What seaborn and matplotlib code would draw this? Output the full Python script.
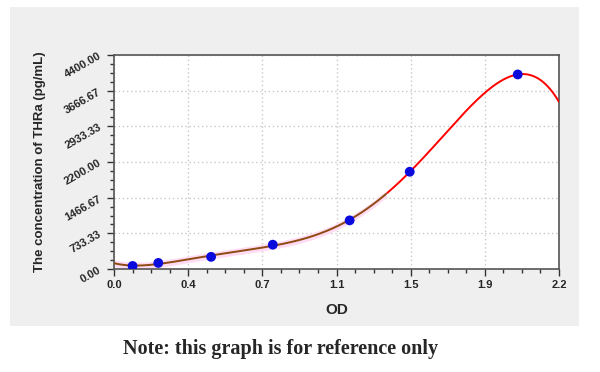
import numpy as np
import pandas as pd
import matplotlib
matplotlib.use("Agg")
import matplotlib.pyplot as plt
import seaborn as sns
from matplotlib.ticker import FixedLocator, FixedFormatter, AutoMinorLocator, FuncFormatter
from matplotlib.patches import Rectangle

# data
od = [0.092, 0.219, 0.480, 0.785, 1.165, 1.462, 1.996]
conc = [62.5, 125, 250, 500, 1000, 2000, 4000]
x_ticks = [0.0, 2.2 / 6, 2 * 2.2 / 6, 3 * 2.2 / 6, 4 * 2.2 / 6, 5 * 2.2 / 6, 2.2]
x_tick_labels = ["0.0", "0.4", "0.7", "1.1", "1.5", "1.9", "2.2"]
y_ticks = [0.0, 733.33, 1466.67, 2200.00, 2933.33, 3666.67, 4400.00]

sns.set_theme(style="white")
plt.rcParams["font.family"] = ["Liberation Sans", "DejaVu Sans"]

fig = plt.figure(figsize=(6.0, 3.72), dpi=100)
fig.patch.set_facecolor("white")
fig.patches.append(Rectangle((10 / 600, 1 - 326 / 372), 569 / 600, 319 / 372,
                             transform=fig.transFigure, facecolor="#efefef",
                             edgecolor="none", zorder=-10))
ax = fig.add_axes([114 / 600, 1 - 269 / 372, 445 / 600, 214 / 372])
ax.set_facecolor("white")

# fitted standard curve (polynomial regression of the standards)
coef = np.polyfit(od, conc, 5)
xs = np.linspace(0, 2.2, 400)
ys = np.polyval(coef, xs)
curve = pd.DataFrame({"x": xs, "y": ys})
split = 1.35
low = curve[curve.x <= split]
high = curve[curve.x >= split]

ax.fill_between(low.x, low.y - 70, low.y + 70, color="#ffdcf3", lw=0, zorder=1)
sns.lineplot(data=high, x="x", y="y", color="#ff0000", lw=1.4, ax=ax, zorder=3)
sns.lineplot(data=low, x="x", y="y", color="#8f4a12", lw=1.4, ax=ax, zorder=3)
pts = pd.DataFrame({"od": od, "conc": conc})
sns.scatterplot(data=pts, x="od", y="conc", color="#0a0adc", s=50, edgecolor="none",
                ax=ax, zorder=4)

ax.set_xlim(0, 2.2)
ax.set_ylim(0, 4400)
ax.xaxis.set_major_locator(FixedLocator(x_ticks))
ax.xaxis.set_major_formatter(FixedFormatter(x_tick_labels))
ax.yaxis.set_major_locator(FixedLocator(y_ticks))
ax.yaxis.set_major_formatter(FuncFormatter(lambda v, p: f"{v:.2f}"))
ax.xaxis.set_minor_locator(AutoMinorLocator(4))
ax.yaxis.set_minor_locator(AutoMinorLocator(4))
ax.grid(True, which="major", color="#c8c8c8", linestyle=(0, (1, 2)), lw=1)
ax.tick_params(which="major", direction="out", length=5, width=1, color="#333333",
               labelsize=8, pad=3, bottom=True, left=True)
ax.tick_params(which="minor", direction="out", length=3, width=1, color="#333333",
               bottom=True, left=True)
for lab in ax.get_xticklabels() + ax.get_yticklabels():
    lab.set_fontweight("bold")
for lab in ax.get_yticklabels():
    lab.set_rotation(30)
for s in ax.spines.values():
    s.set_color("#555555")
    s.set_linewidth(1.2)

ax.set_xlabel("OD", fontsize=11, fontweight="bold", labelpad=9)
ax.set_ylabel("The concentration of THRa (pg/mL)", fontsize=9.5, fontweight="bold", labelpad=12)

fig.text(281 / 600, 1 - 349 / 372, "Note: this graph is for reference only",
         ha="center", va="center", fontsize=14.5, fontweight="bold",
         family=["Liberation Serif", "DejaVu Serif"])

fig.savefig("out.png", dpi=100)
